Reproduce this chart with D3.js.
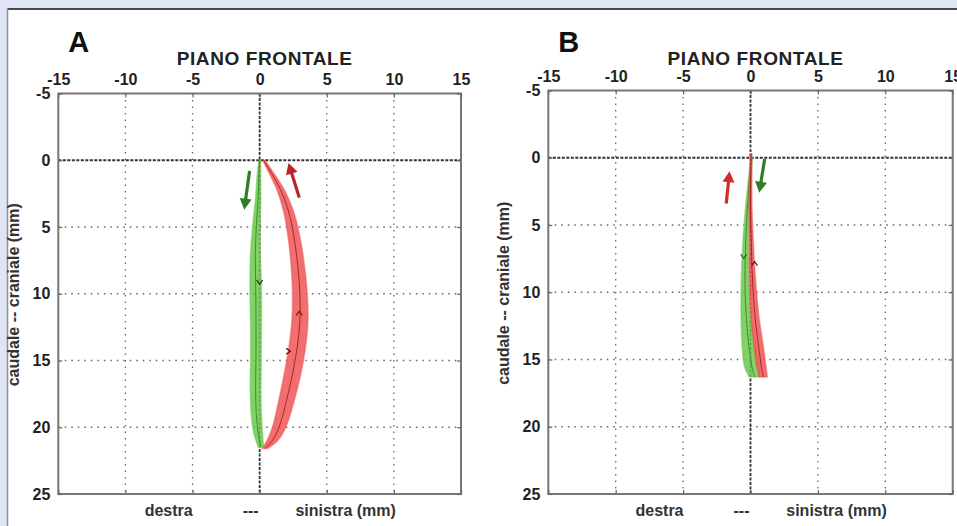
<!DOCTYPE html>
<html>
<head>
<meta charset="utf-8">
<script src="https://cdn.jsdelivr.net/npm/d3@7"></script>
<style>
  body { margin: 0; background: #dfe5f2; }
  svg { display: block; font-family: "Liberation Sans", Arial, sans-serif; }
  .tick text { font-size: 16px; font-weight: bold; fill: #222; }
  .tick line { stroke: #666; stroke-width: 1.2; }
</style>
</head>
<body>
<svg id="chart" width="957" height="526"></svg>
<script>
// axis ticks
const xTicks = [-15, -10, -5, 0, 5, 10, 15];
const yTicks = [-5, 0, 5, 10, 15, 20, 25];
const gridX = [-10, -5, 5, 10];
const gridY = [5, 10, 15, 20];

// panel A: mean trajectory (mm) and band half width
const greenA_y = [0, 1, 3, 5, 7, 9, 11, 13, 15, 17, 19, 20.5, 21.5];
const greenA_x = [0, -0.05, -0.12, -0.25, -0.32, -0.3, -0.28, -0.27, -0.28, -0.3, -0.25, -0.1, 0.1];
const greenA_w = [0.05, 0.12, 0.2, 0.28, 0.36, 0.42, 0.42, 0.4, 0.4, 0.4, 0.38, 0.32, 0.2];
const redA_y = [0, 1, 2.3, 4, 6, 8, 10, 12, 14, 16, 18, 20, 21, 21.6];
const redA_x = [0.3, 0.9, 1.6, 2.2, 2.6, 2.85, 3.0, 3.0, 2.8, 2.45, 2.0, 1.45, 0.95, 0.4];
const redA_w = [0.08, 0.18, 0.28, 0.38, 0.45, 0.5, 0.55, 0.6, 0.62, 0.62, 0.58, 0.5, 0.4, 0.2];

// panel B
const greenB_y = [0, 2, 4, 6, 8, 10, 12, 14, 15.5, 16.3];
const greenB_x = [0.1, -0.1, -0.25, -0.35, -0.4, -0.4, -0.3, -0.12, 0.1, 0.3];
const greenB_w = [0.05, 0.1, 0.15, 0.2, 0.25, 0.3, 0.4, 0.5, 0.55, 0.4];
const redB_y = [-0.3, 2, 4, 6, 8, 10, 12, 14, 15.5, 16.3];
const redB_x = [0.05, 0.0, 0.0, 0.05, 0.1, 0.2, 0.35, 0.6, 0.8, 0.95];
const redB_w = [0.05, 0.1, 0.12, 0.15, 0.2, 0.25, 0.3, 0.35, 0.35, 0.3];

// direction arrows (from -> to, mm)
const bigArrowsA = [
  { from: [-0.75, 0.8], to: [-1.15, 3.7], color: "#2f7d24" },
  { from: [2.95, 2.8], to: [2.15, 0.2], color: "#b8242a" },
];
const bigArrowsB = [
  { from: [-1.8, 3.4], to: [-1.55, 1.0], color: "#d42a2a" },
  { from: [1.05, 0.1], to: [0.65, 2.6], color: "#2f7d24" },
];
// small chevrons on the mean lines: [x, y, angle deg, colour]
const marksA = [[0.0, 9.2, 180, "#333"], [2.95, 11.4, 0, "#8a1414"], [2.2, 14.3, 90, "#5a0c0c"]];
const marksB = [[-0.5, 7.4, 180, "#2f6a20"], [0.3, 7.8, 0, "#7a1010"]];

const svg = d3.select("#chart");

// white sheet
svg.append("rect").attr("x", 7.5).attr("y", 9).attr("width", 960).attr("height", 530)
  .attr("fill", "#fff");
svg.append("line").attr("x1", 7.5).attr("x2", 957).attr("y1", 9).attr("y2", 9)
  .attr("stroke", "#111").attr("stroke-width", 1.6);
svg.append("line").attr("x1", 7.5).attr("x2", 7.5).attr("y1", 9).attr("y2", 526)
  .attr("stroke", "#8c95a8").attr("stroke-width", 1.6);

const zip = (ys, xs, ws) => ys.map((y, i) => ({ y, x: xs[i], w: ws[i] }));
const fmt = (d) => String(d); // plain hyphen minus, like the original

function panel(cfg) {
  const { left, right, top, bottom, letter, series, arrows, marks } = cfg;
  const x = d3.scaleLinear().domain([-15, 15]).range([left, right]);
  const y = d3.scaleLinear().domain([-5, 25]).range([top, bottom]);
  const g = svg.append("g");

  // grid
  g.selectAll("line.gx").data(gridX).join("line").attr("class", "gx")
    .attr("x1", x).attr("x2", x).attr("y1", top).attr("y2", bottom)
    .attr("stroke", "#666").attr("stroke-width", 1.3).attr("stroke-dasharray", "1.5,5");
  g.selectAll("line.gy").data(gridY).join("line").attr("class", "gy")
    .attr("y1", y).attr("y2", y).attr("x1", left).attr("x2", right)
    .attr("stroke", "#666").attr("stroke-width", 1.3).attr("stroke-dasharray", "1.5,5");
  // origin lines
  g.append("line").attr("x1", x(0)).attr("x2", x(0)).attr("y1", top).attr("y2", bottom)
    .attr("stroke", "#333").attr("stroke-width", 1.8).attr("stroke-dasharray", "3,1.5");
  g.append("line").attr("y1", y(0)).attr("y2", y(0)).attr("x1", left).attr("x2", right)
    .attr("stroke", "#333").attr("stroke-width", 1.8).attr("stroke-dasharray", "3,1.5");

  // bands and mean lines
  const area = d3.area().curve(d3.curveCatmullRom)
    .y((d) => y(d.y)).x0((d) => x(d.x - d.w)).x1((d) => x(d.x + d.w));
  const line = d3.line().curve(d3.curveCatmullRom).x((d) => x(d.x)).y((d) => y(d.y));
  for (const s of series) {
    g.append("path").attr("d", area(s.data)).attr("fill", s.band).attr("fill-opacity", 0.85)
      .attr("stroke", s.band).attr("stroke-opacity", 0.5).attr("stroke-width", 1.5);
    g.append("path").attr("d", line(s.data)).attr("fill", "none")
      .attr("stroke", s.line).attr("stroke-width", 1).attr("stroke-opacity", 0.8);
  }

  // chevrons
  g.selectAll("path.mk").data(marks).join("path").attr("class", "mk")
    .attr("d", "M-3,3L0,-1L3,3")
    .attr("transform", (d) => `translate(${x(d[0])},${y(d[1])}) rotate(${d[2]})`)
    .attr("fill", "none").attr("stroke", (d) => d[3]).attr("stroke-width", 1.3);

  // big arrows
  for (const a of arrows) {
    const x0 = x(a.from[0]), y0 = y(a.from[1]), x1 = x(a.to[0]), y1 = y(a.to[1]);
    const ang = (Math.atan2(y1 - y0, x1 - x0) * 180) / Math.PI;
    const len = Math.hypot(x1 - x0, y1 - y0);
    const ag = g.append("g").attr("transform", `translate(${x0},${y0}) rotate(${ang})`);
    ag.append("line").attr("x1", 0).attr("x2", len - 8).attr("y1", 0).attr("y2", 0)
      .attr("stroke", a.color).attr("stroke-width", 3.2);
    ag.append("path").attr("d", `M${len},0L${len - 11},-6L${len - 11},6Z`).attr("fill", a.color);
  }

  // frame
  g.append("rect").attr("x", left).attr("y", top).attr("width", right - left)
    .attr("height", bottom - top).attr("fill", "none").attr("stroke", "#777").attr("stroke-width", 2);

  // axes
  const ax = (gen, tr) => {
    const a = g.append("g").attr("transform", tr).call(gen);
    a.select(".domain").remove();
    return a;
  };
  ax(d3.axisTop(x).tickValues(xTicks).tickSize(-4).tickPadding(9).tickFormat(fmt), `translate(0,${top})`);
  ax(d3.axisBottom(x).tickValues(xTicks).tickSize(-4).tickFormat(""), `translate(0,${bottom})`);
  ax(d3.axisLeft(y).tickValues(yTicks).tickSize(-4).tickPadding(8).tickFormat(fmt), `translate(${left},0)`);
  ax(d3.axisRight(y).tickValues(yTicks).tickSize(-4).tickFormat(""), `translate(${right},0)`);

  // texts
  g.append("text").attr("x", left + 10).attr("y", 52).text(letter)
    .attr("font-size", 29).attr("font-weight", "bold").attr("fill", "#111");
  g.append("text").attr("x", (left + right) / 2 + 5).attr("y", 65).attr("text-anchor", "middle")
    .attr("font-size", 19).attr("font-weight", "bold").attr("letter-spacing", 0.6)
    .attr("fill", "#222").text("PIANO FRONTALE");
  g.append("text").attr("transform", `translate(${left - 39},${(top + bottom) / 2 + 1}) rotate(-90)`)
    .attr("text-anchor", "middle").attr("font-size", 16).attr("font-weight", "bold")
    .attr("fill", "#333").text("caudale -- craniale (mm)");
  const bx = x(0);
  const bottomLabels = [["destra", -91], ["---", -9], ["sinistra (mm)", 86]];
  g.selectAll("text.bl").data(bottomLabels).join("text").attr("class", "bl")
    .attr("x", (d) => bx + d[1]).attr("y", 516).attr("text-anchor", "middle")
    .attr("font-size", 16).attr("font-weight", "bold").attr("fill", "#333").text((d) => d[0]);
}

panel({
  left: 58.3, right: 461, top: 93.5, bottom: 494, letter: "A",
  series: [
    { data: zip(greenA_y, greenA_x, greenA_w), band: "#6cc84e", line: "#2f7d24" },
    { data: zip(redA_y, redA_x, redA_w), band: "#ee5656", line: "#9c1414" },
  ],
  arrows: bigArrowsA, marks: marksA,
});
panel({
  left: 548.3, right: 952.7, top: 90.5, bottom: 494, letter: "B",
  series: [
    { data: zip(greenB_y, greenB_x, greenB_w), band: "#6cc84e", line: "#2f7d24" },
    { data: zip(redB_y, redB_x, redB_w), band: "#ee5656", line: "#9c1414" },
  ],
  arrows: bigArrowsB, marks: marksB,
});
</script>
</body>
</html>
